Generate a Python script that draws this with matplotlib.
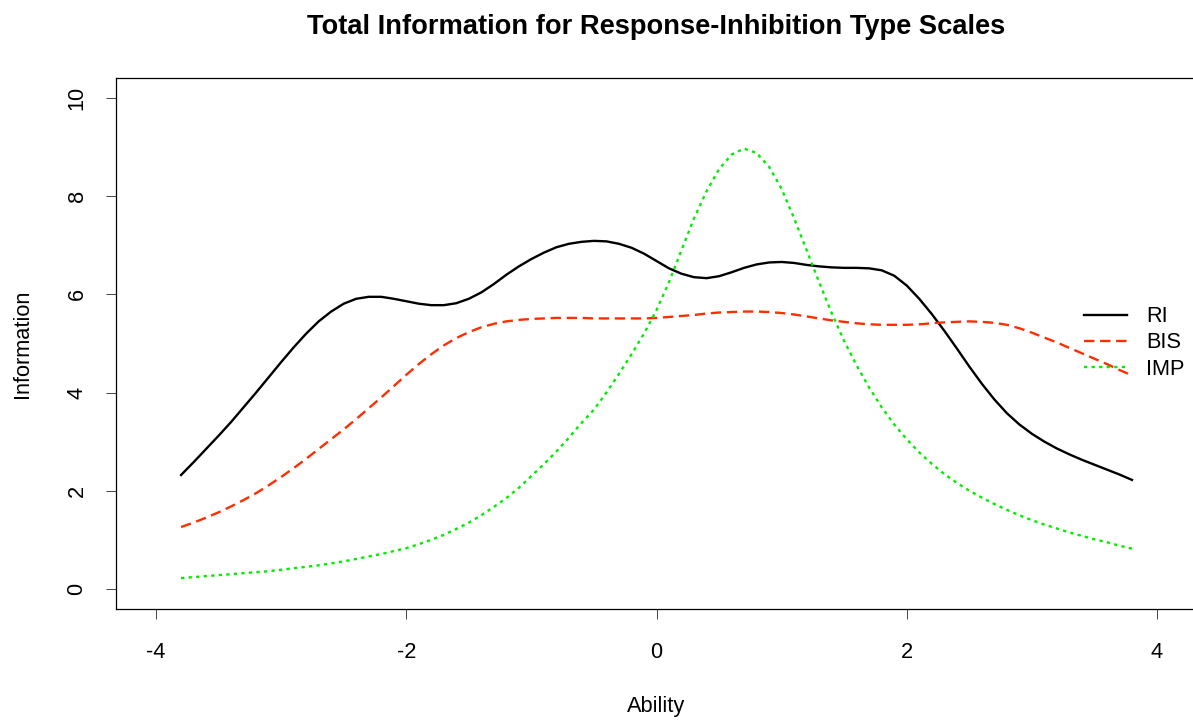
import numpy as np
import matplotlib
matplotlib.use("Agg")
import matplotlib.pyplot as plt

plt.rcParams['font.family'] = ['Liberation Sans', 'DejaVu Sans']

# Ability grid shared by the three information curves
ability = np.round(np.arange(-3.8, 3.8001, 0.1), 1)

ri = [2.32, 2.58, 2.85, 3.12, 3.40, 3.70, 4.00, 4.31, 4.62, 4.92,
      5.20, 5.45, 5.65, 5.81, 5.91, 5.95, 5.95, 5.91, 5.86, 5.81,
      5.78, 5.78, 5.82, 5.91, 6.04, 6.21, 6.40, 6.57, 6.72, 6.85,
      6.96, 7.03, 7.07, 7.09, 7.08, 7.03, 6.95, 6.83, 6.68, 6.53,
      6.42, 6.35, 6.33, 6.37, 6.45, 6.54, 6.61, 6.65, 6.66, 6.64,
      6.60, 6.57, 6.55, 6.54, 6.54, 6.53, 6.49, 6.38, 6.18, 5.91,
      5.60, 5.26, 4.90, 4.53, 4.18, 3.86, 3.58, 3.35, 3.16, 3.00,
      2.86, 2.74, 2.63, 2.53, 2.43, 2.33, 2.22]

bis = [1.26, 1.35, 1.45, 1.56, 1.68, 1.81, 1.95, 2.11, 2.28, 2.46,
       2.65, 2.85, 3.05, 3.25, 3.46, 3.68, 3.90, 4.13, 4.36, 4.58,
       4.78, 4.96, 5.11, 5.23, 5.33, 5.40, 5.45, 5.48, 5.50, 5.51,
       5.52, 5.52, 5.52, 5.51, 5.51, 5.51, 5.51, 5.51, 5.52, 5.54,
       5.56, 5.58, 5.61, 5.63, 5.64, 5.65, 5.65, 5.64, 5.62, 5.59,
       5.55, 5.51, 5.47, 5.44, 5.41, 5.39, 5.38, 5.38, 5.38, 5.39,
       5.41, 5.43, 5.44, 5.45, 5.44, 5.42, 5.38, 5.31, 5.22, 5.12,
       5.02, 4.91, 4.80, 4.69, 4.58, 4.46, 4.35]

imp = [0.22, 0.24, 0.26, 0.28, 0.30, 0.32, 0.34, 0.36, 0.39, 0.42,
       0.45, 0.48, 0.52, 0.56, 0.61, 0.66, 0.71, 0.77, 0.83, 0.91,
       1.00, 1.10, 1.22, 1.35, 1.50, 1.67, 1.85, 2.06, 2.30, 2.54,
       2.80, 3.08, 3.38, 3.65, 4.00, 4.38, 4.78, 5.20, 5.68, 6.25,
       6.90, 7.55, 8.10, 8.55, 8.85, 8.97, 8.88, 8.60, 8.15, 7.55,
       6.90, 6.25, 5.62, 5.05, 4.55, 4.10, 3.70, 3.35, 3.05, 2.78,
       2.55, 2.34, 2.16, 2.00, 1.86, 1.73, 1.61, 1.50, 1.40, 1.31,
       1.23, 1.15, 1.08, 1.01, 0.95, 0.88, 0.82]

series_names = ["RI", "BIS", "IMP"]
x_ticks = [-4, -2, 0, 2, 4]
y_ticks = [0, 2, 4, 6, 8, 10]

W, H = 1193, 721
fig = plt.figure(figsize=(W / 100, H / 100), dpi=100)
ax = fig.add_axes([116 / W, 1 - 608.5 / H, (1197 - 116) / W, (608.5 - 78.4) / H])

lw = 1.7
ax.plot(ability, ri, color="black", lw=lw)
ax.plot(ability, bis, color="#ff2d00", lw=lw, dashes=(4.4, 2.4))
ax.plot(ability, imp, color="#00ee00", lw=lw, dashes=(1.4, 1.8))

ax.set_xlim(-4.32, 4.32)
ax.set_ylim(-0.4, 10.4)
ax.set_xticks(x_ticks)
ax.set_xticklabels([str(v) for v in x_ticks])
ax.set_yticks(y_ticks)
ax.set_yticklabels([str(v) for v in y_ticks], rotation=90, va="center")

for s in ax.spines.values():
    s.set_linewidth(0.9)
ax.tick_params(axis="both", length=7, width=0.7, color="#444444",
               labelsize=15.7)
ax.tick_params(axis="x", pad=17)
ax.tick_params(axis="y", pad=13.5)

ax.set_xlabel("Ability", fontsize=15.7, labelpad=24)
ax.set_ylabel("Information", fontsize=15.7, labelpad=24)
fig.text(656 / W, 1 - 27 / H, "Total Information for Response-Inhibition Type Scales",
         ha="center", va="center", fontsize=19.6, fontweight="bold")

handles = ax.get_lines()
leg = ax.legend(handles, series_names, loc="center left", frameon=False,
                fontsize=15.7, handlelength=1.95, handletextpad=0.9,
                labelspacing=0.24, borderaxespad=0, borderpad=0)
leg.set_bbox_to_anchor((1084 / W, 1 - 343 / H), transform=fig.transFigure)

fig.savefig("out.png", dpi=100)
